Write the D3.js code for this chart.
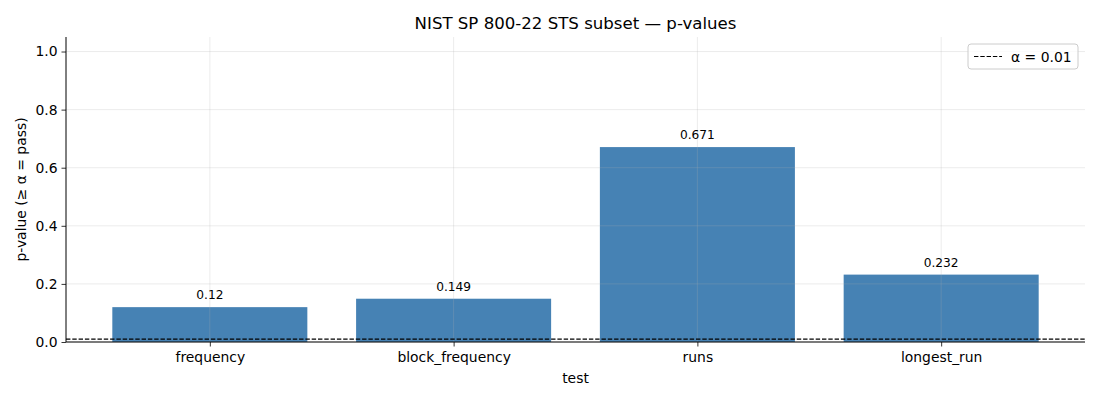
<!DOCTYPE html>
<html>
<head>
<meta charset="utf-8">
<script src="https://cdn.jsdelivr.net/npm/d3@7"></script>
<style>
  body { margin: 0; background: #fff; }
  text { font-family: "DejaVu Sans", sans-serif; }
</style>
</head>
<body>
<div id="chart"></div>
<script>
// test names and their p-values
const tests = ["frequency", "block_frequency", "runs", "longest_run"];
const pValues = [0.12, 0.149, 0.671, 0.232];
const valueLabels = ["0.12", "0.149", "0.671", "0.232"];
const yTicks = [0.0, 0.2, 0.4, 0.6, 0.8, 1.0];
const alpha = 0.01;

const width = 1100, height = 400,
    margin = {left: 66, top: 37, right: 15, bottom: 58};

const svg = d3.select("#chart")
    .append("svg")
        .attr("width", width)
        .attr("height", height);

// band positions like matplotlib: bar width 0.8, 5% margins
const xScale = d3.scaleLinear()
    .domain([-0.59, tests.length - 1 + 0.59])
    .range([margin.left, width - margin.right]);
const yScale = d3.scaleLinear()
    .domain([0, 1.05])
    .range([height - margin.bottom, margin.top]);

const barW = xScale(0.8) - xScale(0);

// bars
svg.append("g").selectAll("rect")
    .data(pValues)
    .enter()
    .append("rect")
        .attr("x", (d, i) => xScale(i) - barW / 2)
        .attr("y", d => yScale(d))
        .attr("width", barW)
        .attr("height", d => yScale(0) - yScale(d))
        .style("fill", "#4682b4");

// grid (drawn on top, faint)
const grid = svg.append("g").attr("class", "grid");
grid.selectAll(".hgrid")
    .data(yTicks)
    .enter()
    .append("line")
        .attr("x1", margin.left)
        .attr("x2", width - margin.right)
        .attr("y1", d => yScale(d))
        .attr("y2", d => yScale(d))
        .style("stroke", "#b0b0b0")
        .style("stroke-opacity", 0.3)
        .style("stroke-width", 0.8);
grid.selectAll(".vgrid")
    .data(tests)
    .enter()
    .append("line")
        .attr("x1", (d, i) => xScale(i))
        .attr("x2", (d, i) => xScale(i))
        .attr("y1", margin.top)
        .attr("y2", height - margin.bottom)
        .style("stroke", "#b0b0b0")
        .style("stroke-opacity", 0.3)
        .style("stroke-width", 0.8);

// value labels
svg.append("g").selectAll("text")
    .data(pValues)
    .enter()
    .append("text")
        .attr("x", (d, i) => xScale(i))
        .attr("y", d => yScale(d) - 8)
        .attr("text-anchor", "middle")
        .style("font-size", "12.2px")
        .text((d, i) => valueLabels[i]);

// alpha line
svg.append("line")
    .attr("x1", margin.left)
    .attr("x2", width - margin.right)
    .attr("y1", yScale(alpha))
    .attr("y2", yScale(alpha))
    .style("stroke", "#000")
    .style("stroke-width", 1.2)
    .style("stroke-dasharray", "4.4,1.9");

// axes
const xAxis = d3.axisBottom(xScale)
    .tickValues(d3.range(tests.length))
    .tickFormat(i => tests[i])
    .tickSize(4.5)
    .tickPadding(5.5);
const yAxis = d3.axisLeft(yScale)
    .tickValues(yTicks)
    .tickFormat(d3.format(".1f"))
    .tickSize(4.5)
    .tickPadding(4);

const gx = svg.append("g")
    .attr("transform", `translate(0, ${yScale(0)})`)
    .call(xAxis);
const gy = svg.append("g")
    .attr("transform", `translate(${margin.left}, 0)`)
    .call(yAxis);
[gx, gy].forEach(g => {
    g.selectAll("text").style("font-size", "13.9px").style("fill", "#000").style("font-family", "DejaVu Sans");
    g.selectAll("line").style("stroke", "#000").style("stroke-width", 0.8);
    g.select(".domain").style("stroke", "#000").style("stroke-width", 1);
});
gx.select(".domain").attr("d", `M${margin.left},0H${width - margin.right}`);
gy.select(".domain").attr("d", `M0,${yScale(0)}V${margin.top}`);

// titles
svg.append("text")
    .attr("x", (margin.left + width - margin.right) / 2)
    .attr("y", 29)
    .attr("text-anchor", "middle")
    .style("font-size", "16.6px")
    .text("NIST SP 800-22 STS subset — p-values");
svg.append("text")
    .attr("x", (margin.left + width - margin.right) / 2)
    .attr("y", 383)
    .attr("text-anchor", "middle")
    .style("font-size", "13.9px")
    .text("test");
svg.append("text")
    .attr("transform", `translate(26, ${(margin.top + height - margin.bottom) / 2}) rotate(-90)`)
    .attr("text-anchor", "middle")
    .style("font-size", "13.9px")
    .text("p-value (≥ α = pass)");

// legend
const lg = svg.append("g").attr("transform", "translate(968, 44)");
lg.append("rect")
    .attr("width", 110)
    .attr("height", 25)
    .attr("rx", 3)
    .style("fill", "#fff")
    .style("fill-opacity", 0.8)
    .style("stroke", "#ccc")
    .style("stroke-width", 1);
lg.append("line")
    .attr("x1", 6).attr("x2", 34)
    .attr("y1", 12.5).attr("y2", 12.5)
    .style("stroke", "#000")
    .style("stroke-width", 1.2)
    .style("stroke-dasharray", "4.4,1.9");
lg.append("text")
    .attr("x", 43)
    .attr("y", 17.5)
    .style("font-size", "13.9px")
    .text("α = 0.01");
</script>
</body>
</html>
